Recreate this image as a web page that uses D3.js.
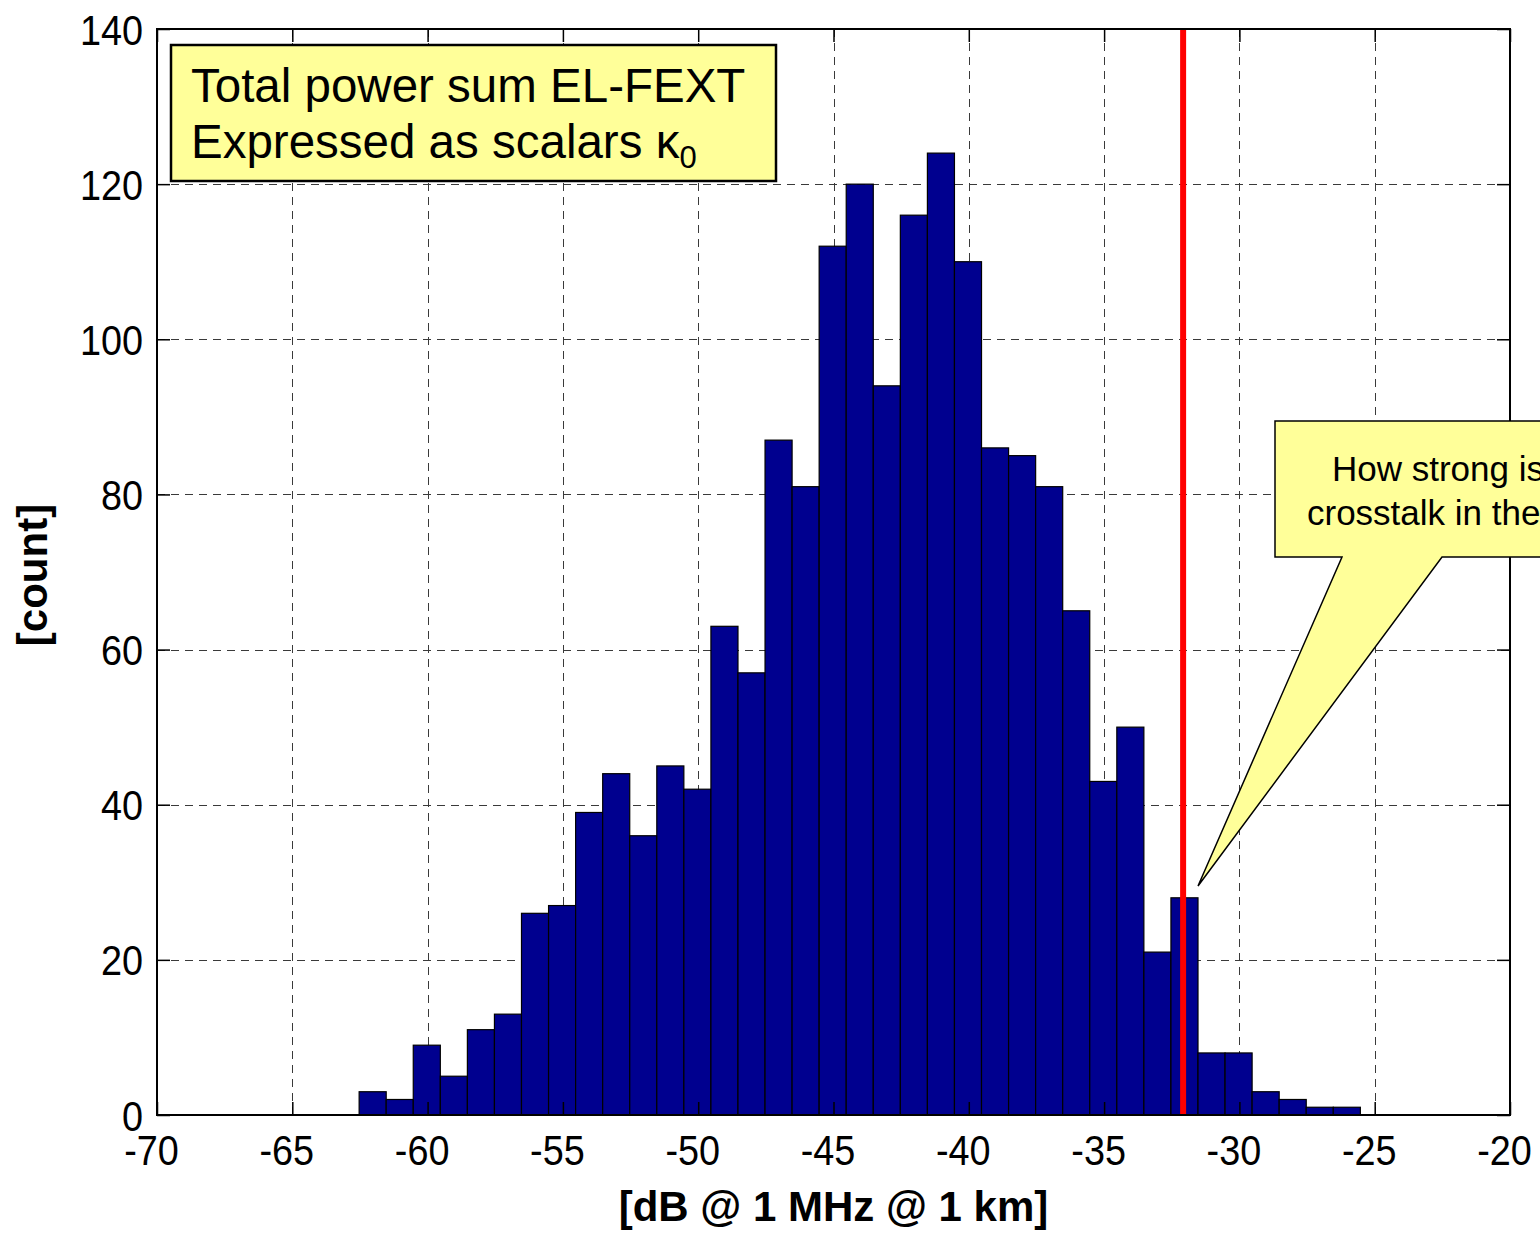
<!DOCTYPE html>
<html>
<head>
<meta charset="utf-8">
<script src="https://cdn.jsdelivr.net/npm/d3@7"></script>
<style>
  html, body { margin: 0; padding: 0; background: #fff; }
  svg { display: block; font-family: "Liberation Sans", Arial, sans-serif; }
</style>
</head>
<body>
<svg id="chart" width="1540" height="1239"></svg>
<script>
// ---- data ----
const binCenters = [-62.03, -61.03, -60.03, -59.03, -58.03, -57.03, -56.03, -55.03, -54.03, -53.03,
                    -52.03, -51.03, -50.03, -49.03, -48.03, -47.03, -46.03, -45.03, -44.03, -43.03,
                    -42.03, -41.03, -40.03, -39.03, -38.03, -37.03, -36.03, -35.03, -34.03, -33.03,
                    -32.03, -31.03, -30.03, -29.03, -28.03, -27.03, -26.03];
const binWidth = 1.0;
const counts = [3, 2, 9, 5, 11, 13, 26, 27, 39, 44,
                36, 45, 42, 63, 57, 87, 81, 112, 120, 94,
                116, 124, 110, 86, 85, 81, 65, 43, 50, 21,
                28, 8, 8, 3, 2, 1, 1];
const xTicks = [-70, -65, -60, -55, -50, -45, -40, -35, -30, -25, -20];
const yTicks = [0, 20, 40, 60, 80, 100, 120, 140];
const markerValue = -32.08;
const xLabel = "[dB @ 1 MHz @ 1 km]";
const yLabel = "[count]";
const boxLines = ["Total power sum EL-FEXT", "Expressed as scalars \u03BA"];
const calloutLines = ["How strong is the", "crosstalk in the field?"];

// ---- layout ----
const L = 157, R = 1510, T = 29, B = 1115;
const svg = d3.select("#chart");
const x = d3.scaleLinear().domain([-70, -20]).range([L, R]);
const y = d3.scaleLinear().domain([0, 140]).range([B, T]);
const tickLen = 13;
const sx = 0.9; // horizontal condensing of tick labels
const fmt = d => String(d); // plain hyphen-minus like the reference

// grid
const grid = svg.append("g").attr("stroke", "#3a3a3a").attr("stroke-width", 1)
  .attr("stroke-dasharray", "8,6").attr("fill", "none");
grid.selectAll("line.v").data(xTicks.slice(1, -1)).join("line")
  .attr("x1", d => Math.round(x(d)) + 0.5).attr("x2", d => Math.round(x(d)) + 0.5)
  .attr("y1", T).attr("y2", B);
grid.selectAll("line.h").data(yTicks.slice(1, -1)).join("line")
  .attr("y1", d => Math.round(y(d)) + 0.5).attr("y2", d => Math.round(y(d)) + 0.5)
  .attr("x1", L).attr("x2", R);

// bars
svg.append("g").selectAll("rect").data(binCenters).join("rect")
  .attr("x", d => x(d - binWidth / 2))
  .attr("width", d => x(d + binWidth / 2) - x(d - binWidth / 2))
  .attr("y", (d, i) => y(counts[i]))
  .attr("height", (d, i) => y(0) - y(counts[i]))
  .attr("fill", "#00008f").attr("stroke", "#000").attr("stroke-width", 1.2);

// red marker line
svg.append("line")
  .attr("x1", x(markerValue)).attr("x2", x(markerValue))
  .attr("y1", T).attr("y2", B)
  .attr("stroke", "#ff0000").attr("stroke-width", 6);

// axes
const axB = svg.append("g").attr("transform", `translate(0,${B})`)
  .call(d3.axisBottom(x).tickValues(xTicks).tickSizeInner(-tickLen).tickSizeOuter(0).tickFormat(fmt));
const axT = svg.append("g").attr("transform", `translate(0,${T})`)
  .call(d3.axisTop(x).tickValues(xTicks).tickSizeInner(-tickLen).tickSizeOuter(0).tickFormat(""));
const axL = svg.append("g").attr("transform", `translate(${L},0)`)
  .call(d3.axisLeft(y).tickValues(yTicks).tickSizeInner(-tickLen).tickSizeOuter(0).tickFormat(fmt));
const axR = svg.append("g").attr("transform", `translate(${R},0)`)
  .call(d3.axisRight(y).tickValues(yTicks).tickSizeInner(-tickLen).tickSizeOuter(0).tickFormat(""));
[axB, axT, axL, axR].forEach(a => {
  a.select(".domain").remove();
  a.selectAll(".tick line").attr("stroke", "#000").attr("stroke-width", 1.5);
});
axB.selectAll(".tick text")
  .attr("font-family", "Liberation Sans, Arial, sans-serif")
  .attr("font-size", 42).attr("fill", "#000")
  .attr("x", -6 / sx).attr("y", 50).attr("dy", 0).attr("text-anchor", "middle")
  .attr("transform", `scale(${sx},1)`);
axL.selectAll(".tick text")
  .attr("font-family", "Liberation Sans, Arial, sans-serif")
  .attr("font-size", 42).attr("fill", "#000")
  .attr("x", -14 / sx).attr("dy", "0.36em").attr("text-anchor", "end")
  .attr("transform", `scale(${sx},1)`);

// frame
svg.append("rect").attr("x", L).attr("y", T).attr("width", R - L).attr("height", B - T)
  .attr("fill", "none").attr("stroke", "#000").attr("stroke-width", 2);

// axis labels
svg.append("text").attr("x", (L + R) / 2).attr("y", 1221).attr("text-anchor", "middle")
  .attr("font-size", 42).attr("font-weight", "bold").text(xLabel);
svg.append("text").attr("transform", `translate(47,575) rotate(-90)`).attr("text-anchor", "middle")
  .attr("font-size", 42).attr("font-weight", "bold").text(yLabel);

// annotation box (top-left)
svg.append("rect").attr("x", 171).attr("y", 45).attr("width", 605).attr("height", 136)
  .attr("fill", "#ffff99").attr("stroke", "#000").attr("stroke-width", 2.5);
const bt = svg.append("g").attr("font-size", 47.5).attr("fill", "#000");
bt.append("text").attr("x", 191).attr("y", 102).text(boxLines[0]);
const l2 = bt.append("text").attr("x", 191).attr("y", 158);
l2.append("tspan").text(boxLines[1]);
l2.append("tspan").attr("font-size", 31).attr("dy", 10).text("0");

// callout (right)
const cx0 = 1275, cy0 = 421, cy1 = 557;
const tip = [1198, 886];
svg.append("path")
  .attr("d", `M${cx0},${cy0} L1600,${cy0} L1600,${cy1} L1442,${cy1} L${tip[0]},${tip[1]} L1342,${cy1} L${cx0},${cy1} Z`)
  .attr("fill", "#ffff99").attr("stroke", "#000").attr("stroke-width", 1.5);
const ct = svg.append("g").attr("font-size", 35).attr("fill", "#000");
ct.append("text").attr("x", 1332).attr("y", 481).text(calloutLines[0]);
ct.append("text").attr("x", 1307).attr("y", 525).text(calloutLines[1]);
</script>
</body>
</html>
